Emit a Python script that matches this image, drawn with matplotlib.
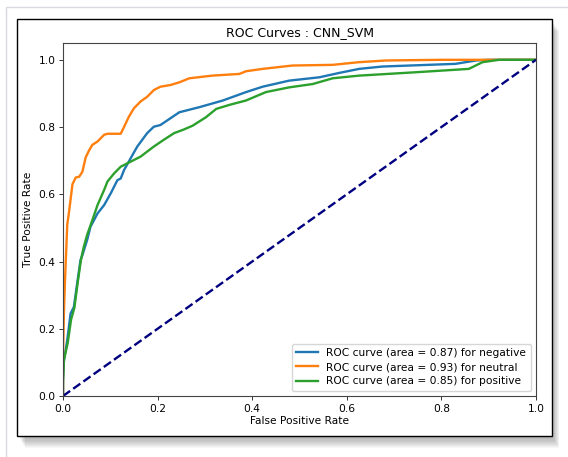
import matplotlib
matplotlib.use("Agg")
import matplotlib.pyplot as plt
from matplotlib.patches import Rectangle
import numpy as np

# ROC operating points (false positive rate, true positive rate) per class
fpr_negative = [0.0, 0.0, 0.002, 0.009, 0.016, 0.023, 0.030, 0.037, 0.041, 0.051, 0.058,
                0.073, 0.087, 0.101, 0.115, 0.122, 0.129, 0.143, 0.157, 0.178, 0.192,
                0.206, 0.227, 0.246, 0.288, 0.338, 0.387, 0.422, 0.478, 0.542, 0.584,
                0.626, 0.675, 0.830, 0.873, 0.900, 1.0]
tpr_negative = [0.0, 0.05, 0.106, 0.166, 0.245, 0.265, 0.335, 0.404, 0.419, 0.464, 0.503,
                0.543, 0.568, 0.603, 0.642, 0.647, 0.672, 0.707, 0.742, 0.782, 0.801,
                0.806, 0.826, 0.844, 0.859, 0.879, 0.904, 0.920, 0.938, 0.948, 0.961,
                0.973, 0.980, 0.988, 0.998, 1.0, 1.0]

fpr_neutral = [0.0, 0.0, 0.002, 0.004, 0.009, 0.013, 0.020, 0.027, 0.034, 0.041, 0.048,
               0.055, 0.062, 0.073, 0.087, 0.094, 0.122, 0.129, 0.139, 0.150, 0.164,
               0.178, 0.192, 0.206, 0.227, 0.246, 0.267, 0.316, 0.373, 0.387, 0.422,
               0.485, 0.570, 0.626, 0.683, 0.800, 1.0]
tpr_neutral = [0.0, 0.12, 0.25, 0.335, 0.51, 0.55, 0.63, 0.65, 0.652, 0.667, 0.71,
               0.73, 0.747, 0.757, 0.777, 0.78, 0.78, 0.80, 0.83, 0.856, 0.876,
               0.89, 0.91, 0.92, 0.925, 0.933, 0.945, 0.953, 0.958, 0.966, 0.973,
               0.983, 0.985, 0.993, 0.998, 1.0, 1.0]

fpr_positive = [0.0, 0.0, 0.002, 0.010, 0.017, 0.024, 0.031, 0.038, 0.044, 0.051, 0.062,
                0.073, 0.087, 0.094, 0.108, 0.122, 0.143, 0.164, 0.178, 0.192, 0.213,
                0.235, 0.256, 0.274, 0.302, 0.324, 0.352, 0.387, 0.429, 0.478, 0.528,
                0.570, 0.626, 0.746, 0.858, 0.887, 0.922, 1.0]
tpr_positive = [0.0, 0.04, 0.107, 0.158, 0.227, 0.262, 0.337, 0.406, 0.444, 0.479, 0.523,
                0.568, 0.613, 0.638, 0.662, 0.682, 0.697, 0.712, 0.727, 0.742, 0.762,
                0.782, 0.793, 0.804, 0.829, 0.854, 0.866, 0.879, 0.904, 0.918, 0.928,
                0.945, 0.953, 0.963, 0.973, 0.993, 1.0, 1.0]

class_names = ["negative", "neutral", "positive"]
auc_values = [0.87, 0.93, 0.85]
colors = ["#1f77b4", "#ff7f0e", "#2ca02c"]

W, H = 568, 457
fig = plt.figure(figsize=(W / 100, H / 100), dpi=100)

# Frame around the figure: light outer border, black panel with a soft drop shadow
bg = fig.add_axes([0, 0, 1, 1], zorder=0)
bg.set_xlim(0, W)
bg.set_ylim(H, 0)
bg.axis("off")
bg.add_patch(Rectangle((5.5, 6.5), W, H, facecolor="white", edgecolor="#d9d9e3", lw=1.0))
for k in range(12, 0, -1):
    bg.add_patch(Rectangle((17 + k * 0.7, 19 + k * 1.0), 534, 416 + k * 0.1,
                           facecolor="black", edgecolor="none", alpha=0.03))
bg.add_patch(Rectangle((17, 19), 534.5, 416.5, facecolor="white", edgecolor="black", lw=1.0))

ax = fig.add_axes([63 / W, (H - 396) / H, 473 / W, 353 / H], zorder=1)
curves = [(fpr_negative, tpr_negative), (fpr_neutral, tpr_neutral), (fpr_positive, tpr_positive)]
for (f, t), name, auc, c in zip(curves, class_names, auc_values, colors):
    ax.plot(f, t, color=c, lw=1.7, label=f"ROC curve (area = {auc:.2f}) for {name}")
ax.plot([0, 1], [0, 1], color="navy", lw=1.7, linestyle="--")
ax.set_xlim(0.0, 1.0)
ax.set_ylim(0.0, 1.05)
ax.set_xticks(np.arange(0, 1.01, 0.2))
ax.set_yticks(np.arange(0, 1.01, 0.2))
ax.tick_params(labelsize=7.7, length=3, width=0.7, color="#333333", pad=2.5)
for s in ax.spines.values():
    s.set_linewidth(0.8)
    s.set_color("#444444")
ax.set_xlabel("False Positive Rate", fontsize=7.7, labelpad=1.5)
ax.set_ylabel("True Positive Rate", fontsize=7.7, labelpad=4)
ax.set_title("ROC Curves : CNN_SVM", fontsize=9, pad=5)
ax.legend(loc="lower right", fontsize=7.7, handlelength=2.0, borderpad=0.4,
          labelspacing=0.4, handletextpad=0.8)

fig.savefig("out.png", dpi=100)
